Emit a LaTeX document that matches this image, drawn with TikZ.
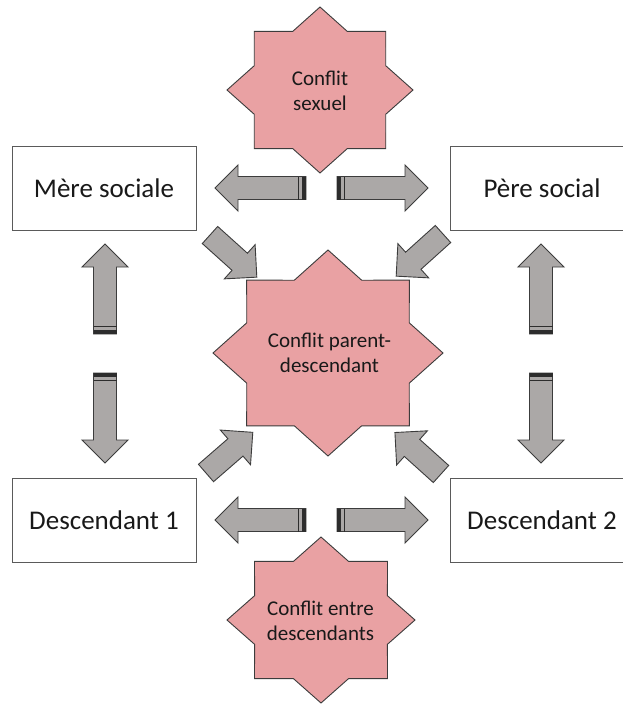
\documentclass[tikz,border=0pt]{standalone}
\usepackage{fontspec}
\setmainfont{Carlito}
\usetikzlibrary{calc}
\definecolor{starpink}{RGB}{233,161,163}
\definecolor{arrgray}{RGB}{171,168,167}
\definecolor{edgedark}{RGB}{60,60,60}
\definecolor{stripedark}{RGB}{45,45,45}
\definecolor{boxedge}{RGB}{90,90,90}
\definecolor{txt}{RGB}{25,25,25}
\tikzset{
  starst/.style={fill=starpink, draw=edgedark, line width=0.9pt, line join=miter},
  arrst/.style={fill=arrgray, draw=edgedark, line width=0.9pt, line join=miter},
  boxst/.style={draw=boxedge, fill=white, line width=0.9pt, minimum width=184pt, minimum height=84pt, inner sep=0pt, font=\fontsize{27}{32}\selectfont, text=txt},
  startext/.style={align=center, inner sep=0pt, font=\fontsize{21}{25}\selectfont, text=txt}
}
% star: center coordinate, rx, ry
\newcommand\StarEight[3]{%
  \draw[starst, shift={(#1)}] (0:{#2} and {#3}) -- ({22.5}:{0.765*#2} and {0.765*#3})
    \foreach \k in {1,...,7}{ -- ({\k*45}:{#2} and {#3}) -- ({\k*45+22.5}:{0.765*#2} and {0.765*#3}) } -- cycle;}
% block arrow: tail coordinate, angle, length
\newcommand\BlockArrow[3]{%
  \draw[arrst, shift={(#1)}, rotate=#2] (0,-11.5) -- ({#3-23},-11.5) -- ({#3-23},-23) -- (#3,0) -- ({#3-23},23) -- ({#3-23},11.5) -- (0,11.5) -- cycle;}
\newcommand\StripedArrow[3]{%
  \BlockArrow{#1}{#2}{#3}%
  \begin{scope}[shift={(#1)}, rotate=#2]
    \fill[stripedark] (0,-11.5) rectangle (3.6,11.5);
    \draw[stripedark, line width=1.3pt] (7.4,-11.5) -- (7.4,11.5);
  \end{scope}}
\begin{document}
\begin{tikzpicture}[x=1pt, y=-1pt]
\useasboundingbox (0,0) rectangle (623,704);
\clip (0,0) rectangle (623,704);
\fill[white] (0,0) rectangle (623,704);

% boxes
\node[boxst] (mere) at (104,188) {Mère sociale};
\node[boxst] (pere) at (542,188) {Père social};
\node[boxst] (d1) at (104,520) {Descendant 1};
\node[boxst] (d2) at (542,520) {Descendant 2};

% stars
\coordinate (cs) at (320,90);
\coordinate (cp) at (328,353);
\coordinate (cd) at (321,620);
\StarEight{cs}{93}{83}
\StarEight{cp}{115}{103}
\StarEight{cd}{94}{83}
\node[startext] (sexuel) at (320,90.5) {Conflit\\sexuel};
\node[startext] (parent) at (329.5,352.5) {Conflit parent-\\descendant};
\node[startext] (entre) at (320.5,620.5) {Conflit entre\\descendants};

% horizontal arrows
\coordinate (ht1) at (306,188);
\coordinate (ht2) at (337,188);
\coordinate (hb1) at (306,520);
\coordinate (hb2) at (337,520);
\StripedArrow{ht1}{180}{91}
\StripedArrow{ht2}{0}{91}
\StripedArrow{hb1}{180}{91}
\StripedArrow{hb2}{0}{91}

% vertical arrows
\coordinate (vl1) at (105,334);
\coordinate (vl2) at (105,373);
\coordinate (vr1) at (541,334);
\coordinate (vr2) at (541,373);
\StripedArrow{vl1}{90}{90}
\StripedArrow{vl2}{-90}{90}
\StripedArrow{vr1}{90}{90}
\StripedArrow{vr2}{-90}{90}

% diagonal arrows
\coordinate (dul) at (210,235);
\coordinate (dur) at (443,234);
\coordinate (dll) at (206,473);
\coordinate (dlr) at (441,474);
\BlockArrow{dul}{-42}{63}
\BlockArrow{dur}{-138}{63}
\BlockArrow{dll}{41}{62}
\BlockArrow{dlr}{138}{62}
\end{tikzpicture}
\end{document}
